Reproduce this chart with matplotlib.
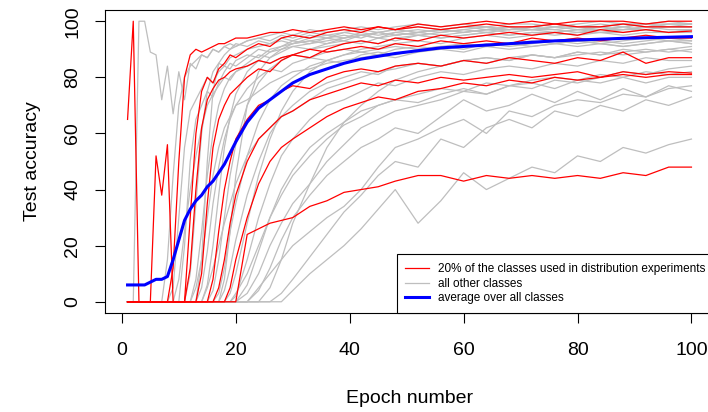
import matplotlib.pyplot as plt
from matplotlib.lines import Line2D

plt.rcParams['font.family'] = ['Liberation Sans', 'DejaVu Sans']

epochs = [1, 2, 3, 4, 5, 6, 7, 8, 9, 10,
          11, 12, 13, 14, 15, 16, 17, 18, 19, 20,
          22, 24, 26, 28, 30,
          33, 36, 39, 42, 45, 48,
          52, 56, 60, 64, 68, 72, 76, 80, 84, 88, 92, 96, 100]

# classes used in the distribution experiments (red)
red_runs = [
    [65, 100, 0, 0, 0, 0, 0, 0, 12, 50, 80, 88, 90, 89, 90, 91, 92, 92, 93, 94,
     94, 95, 96, 96, 97, 96, 97, 98, 97, 98, 97,
     98, 97, 98, 99, 98, 98, 99, 98, 98, 99, 98, 98, 98],
    [0, 0, 0, 0, 0, 52, 38, 56, 0, 0, 0, 30, 60, 75, 80, 78, 83, 85, 88, 87,
     90, 92, 91, 94, 95, 94, 96, 97, 96, 98, 97,
     99, 98, 99, 100, 99, 100, 99, 100, 100, 100, 99, 100, 100],
    [0, 0, 0, 0, 0, 0, 0, 0, 0, 0, 0, 0, 0, 10, 35, 55, 65, 70, 74, 76,
     80, 83, 82, 86, 88, 87, 90, 92, 93, 92, 94,
     93, 95, 94, 95, 96, 95, 96, 95, 97, 96, 97, 96, 96.5],
    [0, 0, 0, 0, 0, 0, 0, 0, 0, 0, 0, 0, 0, 0, 0, 8, 25, 40, 50, 58,
     65, 70, 72, 75, 77, 76, 80, 82, 83, 82, 84,
     85, 84, 86, 85, 87, 86, 85, 87, 86, 89, 85, 87, 87],
    [0, 0, 0, 0, 0, 0, 0, 0, 0, 0, 0, 0, 0, 0, 0, 0, 5, 15, 28, 38,
     50, 58, 62, 66, 68, 72, 74, 76, 78, 77, 79,
     78, 80, 79, 80, 81, 80, 81, 82, 80, 82, 81, 82, 81.5],
    [0, 0, 0, 0, 0, 0, 0, 0, 0, 0, 0, 0, 0, 0, 0, 0, 0, 0, 5, 15,
     30, 42, 50, 55, 58, 62, 66, 69, 71, 73, 72,
     75, 76, 78, 77, 79, 78, 80, 79, 80, 81, 80, 81, 81],
    [0, 0, 0, 0, 0, 0, 0, 0, 0, 0, 0, 12, 40, 62, 72, 76, 79, 80, 82, 83,
     84, 86, 85, 87, 88, 90, 89, 90, 91, 90, 92,
     91, 93, 92, 93, 92, 94, 93, 94, 93, 94, 95, 94, 94],
    [0, 0, 0, 0, 0, 0, 0, 0, 0, 0, 0, 0, 0, 0, 0, 0, 0, 0, 0, 0,
     24, 26, 28, 29, 30, 34, 36, 39, 40, 41, 43,
     45, 45, 43, 45, 44, 45, 44, 45, 44, 46, 45, 48, 48],
]

# all other classes (grey)
grey_runs = [
    [0, 0, 100, 100, 89, 88, 72, 84, 67, 82, 72, 85, 83, 88, 87, 90, 89, 91, 90, 92,
     91, 93, 92, 94, 93, 95, 94, 96, 95, 96, 97,
     96, 97, 98, 97, 98, 97, 98, 98, 97, 98, 99, 98, 98],
    [0, 0, 0, 0, 0, 0, 0, 0, 5, 30, 55, 68, 72, 76, 80, 78, 82, 84, 83, 86,
     88, 87, 90, 91, 92, 93, 92, 94, 95, 94, 95,
     96, 95, 96, 97, 96, 97, 97, 96, 97, 97, 98, 97, 97],
    [0, 0, 0, 0, 0, 0, 0, 0, 0, 0, 20, 50, 65, 70, 75, 73, 78, 82, 85, 84,
     87, 90, 89, 91, 93, 92, 94, 93, 95, 96, 95,
     96, 97, 96, 97, 98, 97, 98, 97, 98, 99, 98, 99, 99],
    [0, 0, 0, 0, 0, 0, 0, 0, 0, 0, 0, 10, 35, 60, 75, 82, 85, 84, 87, 88,
     90, 91, 92, 93, 92, 94, 95, 94, 96, 95, 96,
     97, 96, 97, 98, 97, 98, 99, 98, 98, 99, 99, 98, 99],
    [0, 0, 0, 0, 0, 0, 0, 0, 0, 0, 0, 0, 8, 25, 45, 60, 70, 76, 80, 82,
     85, 88, 87, 90, 91, 90, 92, 93, 92, 94, 93,
     95, 94, 95, 96, 95, 96, 95, 96, 96, 95, 96, 96, 96],
    [0, 0, 0, 0, 0, 0, 0, 0, 0, 0, 0, 0, 0, 5, 18, 35, 48, 58, 65, 70,
     76, 80, 83, 82, 85, 87, 86, 88, 89, 88, 90,
     91, 90, 92, 91, 92, 93, 92, 93, 92, 93, 94, 93, 93],
    [0, 0, 0, 0, 0, 0, 0, 0, 0, 0, 0, 0, 0, 0, 6, 20, 38, 55, 66, 74,
     82, 86, 89, 90, 92, 93, 94, 95, 94, 96, 95,
     96, 97, 96, 97, 97, 98, 97, 98, 98, 97, 98, 98, 98],
    [0, 0, 0, 0, 0, 0, 0, 0, 0, 0, 0, 0, 0, 0, 0, 4, 15, 30, 45, 56,
     70, 78, 83, 86, 88, 90, 91, 92, 93, 92, 94,
     95, 94, 95, 96, 95, 96, 96, 97, 96, 97, 97, 96, 97],
    [0, 0, 0, 0, 0, 0, 0, 0, 0, 0, 0, 0, 0, 0, 0, 0, 3, 12, 25, 35,
     52, 64, 72, 77, 80, 84, 86, 85, 88, 89, 88,
     90, 91, 90, 92, 91, 92, 93, 92, 93, 92, 93, 94, 93],
    [0, 0, 0, 0, 0, 0, 0, 0, 0, 0, 0, 0, 0, 0, 0, 0, 0, 4, 12, 22,
     38, 50, 60, 66, 70, 75, 78, 80, 82, 81, 84,
     85, 84, 86, 87, 86, 88, 87, 88, 89, 88, 89, 90, 89],
    [0, 0, 0, 0, 0, 0, 0, 0, 0, 0, 0, 0, 0, 0, 0, 0, 0, 0, 3, 10,
     28, 45, 58, 68, 75, 82, 86, 88, 90, 91, 92,
     93, 92, 94, 95, 94, 95, 96, 95, 96, 96, 97, 96, 97],
    [0, 0, 0, 0, 0, 0, 0, 0, 0, 0, 0, 0, 0, 0, 0, 0, 0, 0, 0, 2,
     15, 30, 42, 52, 58, 65, 70, 72, 75, 78, 77,
     80, 82, 81, 83, 84, 83, 85, 84, 86, 85, 87, 86, 86],
    [0, 0, 0, 0, 0, 0, 0, 0, 0, 0, 0, 0, 0, 0, 0, 0, 0, 0, 0, 0,
     6, 18, 30, 40, 47, 55, 60, 64, 68, 70, 72,
     71, 74, 76, 74, 77, 78, 76, 79, 78, 80, 78, 80, 80],
    [0, 0, 0, 0, 0, 0, 0, 0, 0, 0, 0, 0, 0, 0, 0, 0, 0, 0, 0, 0,
     0, 4, 12, 22, 30, 38, 45, 50, 55, 58, 62,
     60, 66, 72, 68, 70, 74, 71, 75, 72, 76, 73, 77, 75],
    [0, 0, 0, 0, 0, 0, 0, 0, 0, 0, 0, 0, 0, 0, 0, 0, 0, 0, 0, 0,
     0, 0, 5, 15, 28, 42, 55, 64, 70, 75, 79,
     82, 84, 86, 85, 87, 88, 87, 89, 88, 90, 89, 90, 91],
    [0, 0, 0, 0, 0, 0, 0, 0, 0, 0, 0, 0, 0, 0, 0, 0, 0, 0, 0, 0,
     0, 0, 0, 3, 8, 16, 24, 32, 38, 45, 50,
     48, 58, 55, 62, 65, 62, 68, 66, 70, 68, 72, 70, 73],
    [0, 0, 0, 0, 0, 0, 0, 15, 45, 70, 80, 84, 86, 88, 87, 90, 89, 91, 92, 91,
     93, 94, 93, 95, 94, 96, 95, 96, 97, 96, 97,
     98, 97, 98, 98, 97, 98, 99, 98, 99, 98, 99, 99, 99],
    [0, 0, 0, 0, 0, 0, 0, 0, 0, 0, 0, 0, 0, 15, 50, 75, 85, 88, 90, 91,
     93, 94, 95, 96, 95, 97, 96, 97, 98, 97, 98,
     99, 98, 99, 98, 99, 99, 98, 99, 100, 99, 99, 100, 99],
    [0, 0, 0, 0, 0, 0, 0, 0, 0, 8, 25, 40, 52, 62, 70, 74, 77, 80, 79, 82,
     84, 86, 85, 87, 88, 87, 89, 90, 89, 90, 91,
     90, 91, 92, 91, 92, 91, 92, 93, 92, 91, 92, 93, 92],
    [0, 0, 0, 0, 0, 0, 0, 0, 0, 0, 0, 0, 0, 0, 0, 0, 0, 8, 25, 45,
     70, 82, 87, 89, 91, 92, 93, 94, 95, 94, 96,
     95, 96, 97, 96, 97, 97, 96, 97, 97, 98, 97, 98, 98],
    [0, 0, 0, 0, 0, 0, 0, 0, 0, 0, 0, 0, 0, 0, 0, 0, 0, 0, 0, 0,
     0, 0, 0, 0, 4, 10, 15, 20, 26, 33, 40,
     28, 36, 46, 40, 44, 48, 46, 52, 50, 55, 53, 56, 58],
    [0, 0, 0, 0, 0, 0, 0, 0, 0, 0, 0, 0, 0, 0, 0, 0, 0, 0, 0, 0,
     0, 5, 10, 15, 20, 25, 30, 34, 40, 48, 55,
     58, 62, 65, 60, 68, 66, 70, 72, 71, 74, 73, 76, 77],
    [0, 0, 0, 0, 0, 0, 0, 0, 0, 0, 0, 0, 0, 0, 0, 0, 0, 0, 0, 3,
     10, 20, 30, 38, 45, 52, 58, 63, 66, 70, 72,
     74, 76, 75, 78, 77, 79, 80, 79, 81, 80, 82, 81, 82],
    [0, 0, 0, 0, 0, 0, 0, 0, 0, 0, 0, 0, 0, 0, 5, 12, 20, 28, 35, 42,
     52, 58, 62, 66, 68, 72, 76, 78, 80, 82, 83,
     85, 84, 86, 87, 86, 88, 87, 89, 88, 89, 90, 89, 90],
    [0, 0, 0, 0, 0, 0, 0, 0, 0, 0, 0, 0, 0, 0, 0, 0, 0, 0, 0, 0,
     3, 10, 20, 28, 35, 42, 50, 56, 62, 65, 68,
     70, 72, 75, 74, 77, 76, 79, 78, 80, 82, 81, 83, 84],
    [0, 0, 0, 0, 0, 0, 0, 0, 0, 0, 0, 0, 5, 15, 30, 45, 55, 62, 66, 70,
     72, 75, 78, 80, 82, 83, 85, 86, 87, 88, 87,
     89, 90, 89, 91, 90, 91, 92, 91, 92, 91, 92, 93, 92],
]

# average over all classes (blue)
avg_acc = [6, 6, 6, 6, 7, 8, 8, 9, 15, 22, 29, 33, 36, 38, 41, 43, 46, 49, 53, 57,
           64, 69, 72, 75, 78, 81, 83, 85, 86.5, 87.5, 88.5,
           89.5, 90.5, 91, 91.5, 92, 92.5, 93, 93.3, 93.6, 93.9, 94.1, 94.3, 94.5]

legend_labels = ['20% of the classes used in distribution experiments',
                 'all other classes',
                 'average over all classes']

fig = plt.figure(figsize=(7.08, 4.12), dpi=100)
ax = fig.add_axes([105/708, 99/412, 609/708, 303/412])

for run in grey_runs:
    ax.plot(epochs, run, color='#bebebe', lw=0.9)
for run in red_runs:
    ax.plot(epochs, run, color='red', lw=0.9)
ax.plot(epochs, avg_acc, color='blue', lw=2.2)

ax.set_xlim(-2.96, 103.96)
ax.set_ylim(-4, 104)
ax.set_xticks(range(0, 101, 20))
ax.set_yticks(range(0, 101, 20))
ax.tick_params(direction='out', length=7, width=0.8, labelsize=14)
ax.tick_params(axis='x', pad=14)
ax.tick_params(axis='y', pad=10)
for lbl in ax.get_yticklabels():
    lbl.set_rotation(90)
    lbl.set_va('center')
for sp in ax.spines.values():
    sp.set_linewidth(0.8)
    sp.set_color('black')

ax.set_xlabel('Epoch number', fontsize=14, labelpad=22)
ax.set_ylabel('Test accuracy', fontsize=14, labelpad=17)

handles = [Line2D([], [], color='red', lw=0.9),
           Line2D([], [], color='#bebebe', lw=0.9),
           Line2D([], [], color='blue', lw=2.2)]
leg = ax.legend(handles, legend_labels, loc='lower right', bbox_to_anchor=(1, 0),
                borderaxespad=0, fontsize=8.5, fancybox=False, framealpha=1,
                edgecolor='black', handlelength=2.0, labelspacing=0.23,
                borderpad=0.73, handletextpad=0.76)
leg.get_frame().set_linewidth(0.8)

fig.savefig('out.png', dpi=100)
